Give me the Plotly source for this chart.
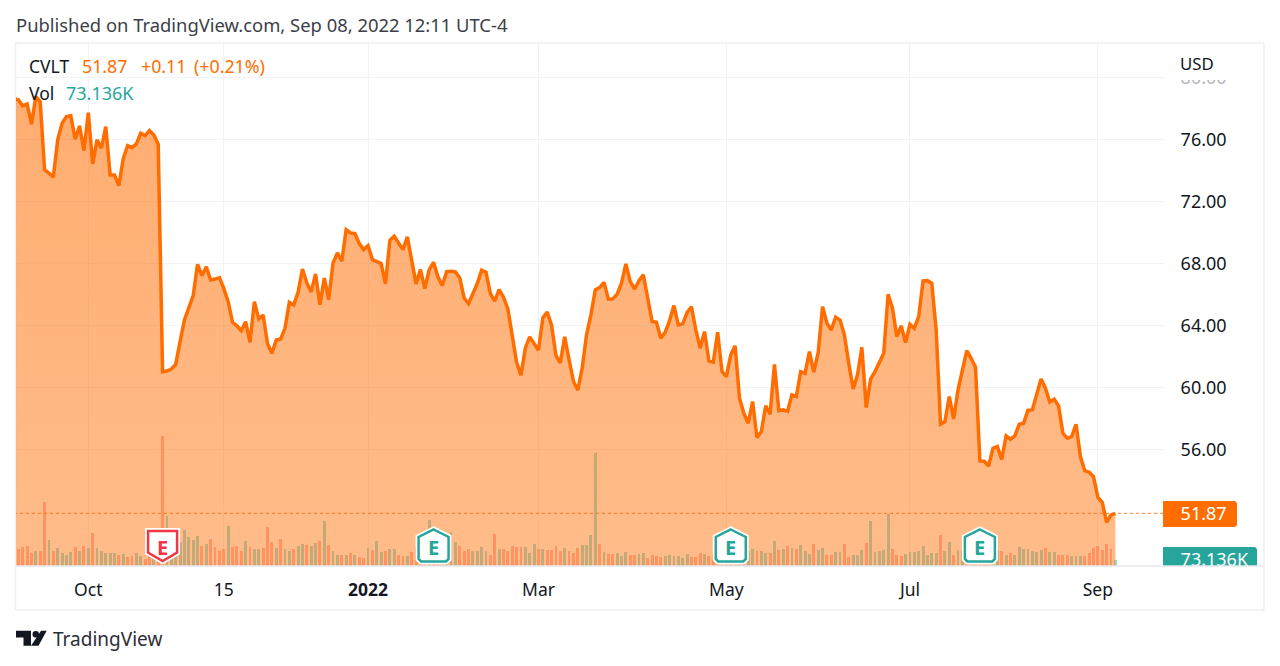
import plotly.graph_objects as go

price = [
78.62,78.54,78.15,78.28,76.97,78.75,78.43,74.02,73.81,73.55,
75.96,77.03,77.46,77.51,76.00,76.86,75.27,77.72,74.41,75.96,
75.42,76.82,73.70,73.70,73.01,74.77,75.59,75.46,75.70,76.39,
76.24,76.56,76.28,75.68,61.01,61.05,61.18,61.48,62.94,64.34,
65.13,65.91,67.93,67.20,67.78,66.92,66.98,67.07,66.38,65.52,
64.19,63.97,63.65,64.23,62.90,65.52,64.40,64.66,62.83,62.19,
63.05,63.11,63.80,65.48,65.31,66.13,67.63,66.73,66.15,67.31,
65.33,67.05,65.66,68.02,68.67,68.13,70.17,69.96,69.91,69.27,
68.88,69.14,68.24,68.13,67.98,66.67,69.48,69.74,69.35,68.88,
69.70,68.02,66.67,67.59,66.37,67.59,68.06,67.12,66.56,67.46,
67.48,67.44,67.05,65.76,65.40,66.04,66.69,67.55,67.42,66.04,
65.55,66.30,65.81,65.05,63.29,61.61,60.77,62.54,63.25,62.82,
62.39,64.47,64.86,64.00,62.06,61.57,63.25,61.78,60.39,59.81,
61.23,63.38,64.67,66.28,66.43,66.77,65.68,65.70,66.00,66.71,
67.96,66.82,66.34,66.88,67.25,65.74,64.24,64.19,63.16,63.55,
64.30,65.27,64.02,64.09,64.82,65.20,63.70,62.52,63.59,61.70,
61.61,63.55,61.01,60.69,62.09,62.67,59.29,58.32,57.68,59.08,
56.75,57.14,58.80,58.26,61.48,58.49,58.54,58.45,59.51,59.40,
61.01,60.90,62.30,60.97,62.24,65.20,64.13,63.70,64.52,64.34,
63.38,61.55,59.89,60.80,62.58,58.69,60.52,61.01,61.66,62.19,
66.00,65.10,63.27,63.96,62.88,64.06,63.81,64.56,66.86,66.88,
66.71,63.70,57.63,57.79,59.40,57.96,59.83,61.01,62.37,61.87,
61.29,55.25,55.23,54.92,56.06,56.17,55.35,56.86,56.65,56.86,
57.61,57.68,58.52,58.54,59.51,60.54,59.94,59.05,59.23,58.80,
57.03,56.71,56.82,57.61,55.53,54.62,54.52,54.24,52.90,52.58,
51.29,51.76,51.87,
]

volume_k = [
180,204,224,244,152,176,184,764,316,184,
212,152,132,168,224,184,236,216,392,216,
184,160,160,160,132,140,104,124,160,124,
88,120,104,120,1564,604,160,200,284,436,
344,316,356,244,260,328,232,176,200,480,
232,240,180,300,228,200,200,212,464,288,
212,328,208,184,208,240,260,248,240,276,
304,544,248,180,132,128,136,152,132,104,
92,220,196,300,172,180,208,200,136,124,
116,172,232,240,240,552,220,200,180,240,
412,292,236,184,200,184,180,232,176,136,
384,200,208,176,244,228,224,232,156,264,
208,208,196,188,244,184,216,184,152,216,
256,256,376,1356,264,172,144,144,152,116,
172,128,128,148,152,96,136,124,104,120,
132,124,120,96,144,104,112,160,144,124,
144,140,120,120,140,140,120,140,184,204,
176,184,152,152,296,192,200,240,216,200,
256,184,144,264,192,220,136,132,164,164,
264,112,136,136,196,272,536,168,180,196,
624,200,136,124,144,164,172,176,244,132,
152,152,376,184,284,136,196,196,160,140,
140,140,140,140,160,192,184,136,156,136,
224,204,200,184,172,192,216,164,172,132,
132,128,120,124,124,116,160,212,236,196,
264,204,73.136,
]

volume_up = [
0,0,0,0,0,1,0,0,1,0,
1,1,1,1,0,1,0,1,0,1,
1,1,1,1,0,1,0,0,1,1,
0,0,1,0,0,1,1,1,1,1,
1,1,1,0,1,0,0,0,0,1,
0,0,0,1,0,1,1,0,0,0,
1,0,1,1,0,1,1,0,1,1,
0,1,0,1,1,0,1,0,1,0,
0,1,0,1,1,0,1,1,0,0,
1,0,0,1,0,1,0,0,0,1,
1,1,0,0,0,1,1,1,1,0,
0,1,0,0,0,0,0,1,1,1,
0,1,0,0,0,0,1,0,0,0,
1,1,1,1,0,1,0,0,1,1,
1,0,0,1,1,0,0,0,0,1,
1,1,1,1,1,0,0,0,1,0,
0,0,1,0,1,0,1,1,1,1,
0,1,1,0,1,0,1,0,1,0,
1,1,1,0,1,1,0,0,1,1,
0,0,1,1,1,0,1,1,1,1,
1,0,0,0,1,1,1,1,1,1,
1,1,0,1,1,0,1,1,0,0,
0,0,0,0,1,1,0,1,0,1,
1,1,1,1,1,1,0,1,1,0,
0,0,1,1,1,0,0,0,0,0,
0,0,1,
]

session = list(range(len(price)))
month_ticks = [17, 48, 81, 120, 163, 205, 248]
month_labels = ["Oct", "15", "<b>2022</b>", "Mar", "May", "Jul", "Sep"]
price_ticks = [52 + 4 * k for k in range(1, 8)]
last_price = 51.87
last_volume = 73.136
earnings_sessions = [34, 96, 164, 221]
earnings_beat = [0, 1, 1, 1]

W, H = 1280, 666
L, R, T, B = 16, 1163, 43, 566
ORANGE = "#ff6d00"
TEAL = "#26a69a"
RED = "#f23645"
INK = "#131722"
GRID = "#f1f3f6"
BORDER = "#eef0f5"
FONT = "Noto Sans"


def px(x):
    return (x - L) / (R - L)


def py(y):
    return (B - y) / (B - T)


def ppath(points):
    return "M" + " L".join(f"{px(x):.5f},{py(y):.5f}" for x, y in points) + " Z"


fig = go.Figure()
fig.add_trace(go.Bar(
    x=session, y=volume_k, yaxis="y", width=0.66,
    marker=dict(color=["rgb(145,222,222)" if u else "rgb(255,180,180)" for u in volume_up], line_width=0),
    hoverinfo="skip", showlegend=False,
))
fig.add_trace(go.Scatter(
    x=session, y=price, yaxis="y2", mode="lines",
    line=dict(color=ORANGE, width=3.5),
    fill="tozeroy",
    fillgradient=dict(type="vertical", start=79, stop=48.47,
                      colorscale=[[0, "rgba(255,109,0,0.56)"], [1, "rgba(255,109,0,0.46)"]]),
    hoverinfo="skip", showlegend=False,
))

shapes = []
annotations = []


def text(x, y, s, color=INK, size=18, anchor="left", weight=None, **kw):
    annotations.append(dict(x=px(x), y=py(y), xref="paper", yref="paper", text=s, showarrow=False,
                            xanchor=anchor, yanchor="middle", align=anchor, borderpad=0,
                            font=dict(family=FONT, size=size, color=color), **kw))


# frame and price-label backgrounds
shapes.append(dict(type="rect", xref="paper", yref="paper", x0=px(15.5), x1=px(1264), y0=py(610), y1=py(43),
                   line=dict(color=BORDER, width=1.5), layer="below"))
shapes.append(dict(type="path", xref="paper", yref="paper", layer="below", line_width=0, fillcolor=ORANGE,
                   path=ppath([(1163, 501), (1235, 501), (1237, 503), (1237, 525), (1235, 527), (1163, 527)])))
shapes.append(dict(type="path", xref="paper", yref="paper", layer="below", line_width=0, fillcolor=TEAL,
                   path=ppath([(1163, 547), (1255, 547), (1257, 549), (1257, 566), (1163, 566)])))
# last price dotted line
shapes.append(dict(type="line", xref="x", yref="y2", x0=0, x1=262.9, y0=last_price, y1=last_price,
                   line=dict(color=ORANGE, width=1, dash="dot"), opacity=0.8, layer="above"))
# masks that clip the axis labels exactly as in the reference
shapes.append(dict(type="rect", xref="paper", yref="paper", x0=px(1164), x1=px(1263), y0=py(80), y1=py(44),
                   fillcolor="white", line_width=0, layer="above"))
shapes.append(dict(type="rect", xref="paper", yref="paper", x0=px(1164), x1=px(1263), y0=py(575), y1=py(566.5),
                   fillcolor="white", line_width=0, layer="above"))
shapes.append(dict(type="line", xref="paper", yref="paper", x0=0, x1=px(1264), y0=0, y1=0,
                   line=dict(color="#e6e8ee", width=1.5), layer="above"))

# earnings flags
up_house = [(0, 36.5), (15, 29), (15, 7), (12.5, 4.5), (-12.5, 4.5), (-15, 7), (-15, 29)]
down_house = [(-14.5, 35), (14.5, 35), (14.5, 13.5), (0, 5), (-14.5, 13.5)]
for s_idx, beat in zip(earnings_sessions, earnings_beat):
    pts = up_house if beat else down_house
    path = "M" + " L".join(f"{a},{b}" for a, b in pts) + " Z"
    colour = TEAL if beat else RED
    for lw, lc in ((6, "white"), (2.5, colour)):
        shapes.append(dict(type="path", xsizemode="pixel", ysizemode="pixel", xanchor=s_idx, yanchor=0,
                           xref="x", yref="y", path=path, fillcolor="white",
                           line=dict(color=lc, width=lw), layer="above"))
    annotations.append(dict(x=s_idx, y=0, xref="x", yref="y", text="<b>E</b>", showarrow=False, yshift=19,
                            font=dict(family=FONT, size=20, color=colour)))

# header and legend text
text(15, 24, "Published on TradingView.com, Sep 08, 2022 12:11 UTC-4", color="#3c3f47", size=18.4)
text(27.5, 66, "CVLT", size=17.5)
text(81, 66, "51.87", color=ORANGE, size=17.8)
text(139.5, 66, "+0.11", color=ORANGE, size=17.8)
text(192.5, 66, "(+0.21%)", color=ORANGE, size=17.8)
text(27.5, 93, "Vol", size=17.5)
text(64.5, 93, "73.136K", color=TEAL, size=18)
text(1179, 63, "USD", size=16.8)
text(52, 639, "TradingView", color="#2a2e39", size=19)

# TradingView logo
shapes.append(dict(type="path", xref="paper", yref="paper", fillcolor=INK, line_width=0, layer="above",
                   path=ppath([(16, 630.7), (31, 630.7), (31, 645.7), (23.5, 645.7), (23.5, 637.5), (16, 637.5)])))
shapes.append(dict(type="circle", xref="paper", yref="paper", fillcolor=INK, line_width=0, layer="above",
                   x0=px(32.5), x1=px(39), y0=py(637.5), y1=py(631)))
shapes.append(dict(type="path", xref="paper", yref="paper", fillcolor=INK, line_width=0, layer="above",
                   path=ppath([(41, 630.7), (46.7, 630.7), (38.5, 645.7), (31, 645.7)])))

fig.update_layout(
    width=W, height=H,
    margin=dict(l=L, r=W - R, t=T, b=H - B, pad=0),
    paper_bgcolor="white", plot_bgcolor="white",
    bargap=0, barmode="overlay", showlegend=False,
    font=dict(family=FONT, size=17, color=INK),
    xaxis=dict(range=[0.458, 262.9], tickmode="array", tickvals=month_ticks, ticktext=month_labels,
               showgrid=True, gridcolor=GRID, gridwidth=1, zeroline=False, showline=False,
               ticks="outside", ticklen=8, tickcolor="rgba(0,0,0,0)",
               tickfont=dict(family=FONT, size=17.5, color=INK)),
    yaxis=dict(range=[0, 6276], side="right", anchor="x", tickmode="array", tickvals=[last_volume],
               ticktext=["73.136K"], showgrid=False, zeroline=False, showline=False,
               ticks="outside", ticklen=13, tickcolor="rgba(0,0,0,0)",
               tickfont=dict(family=FONT, size=18, color="white")),
    yaxis2=dict(range=[48.47, 82.21], overlaying="y", side="right", anchor="x", tickmode="array",
                tickvals=[last_price] + price_ticks,
                ticktext=[f'<span style="color:white">{last_price:.2f}</span>'] + [f"{v:.2f}" for v in price_ticks[:-1]]
                + [f'<span style="color:#b4b6bc">{price_ticks[-1]:.2f}</span>'],
                showgrid=True, gridcolor=GRID, gridwidth=1, zeroline=False, showline=False,
                ticks="outside", ticklen=13, tickcolor="rgba(0,0,0,0)",
                tickfont=dict(family=FONT, size=18, color=INK)),
    shapes=shapes, annotations=annotations,
)

fig.write_html("out.html", config=dict(displayModeBar=False),
               post_script="document.body.style.margin='0';document.documentElement.style.overflow='hidden';")
